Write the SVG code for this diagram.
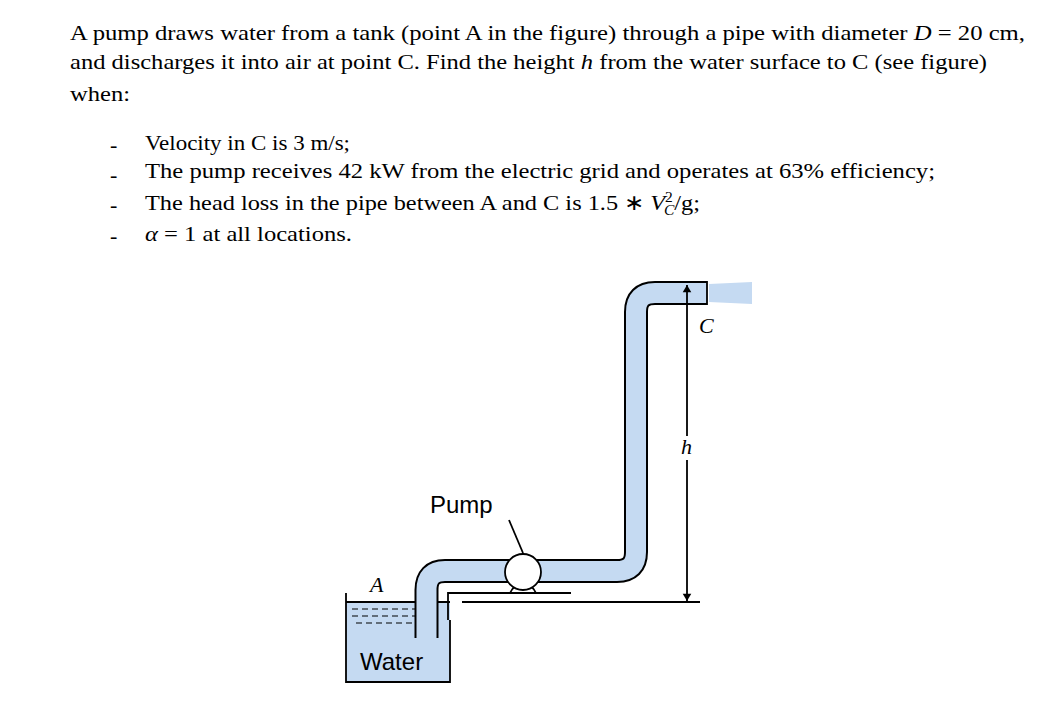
<svg xmlns="http://www.w3.org/2000/svg" width="1059" height="707" viewBox="0 0 1059 707">
<style>
.t{font-family:"Liberation Serif",serif;font-size:22px;fill:#000}
.s{font-family:"Liberation Sans",sans-serif;font-size:24px;fill:#000}
.ln{stroke:#000;stroke-width:1.8;fill:none}
</style>
<defs>
<marker id="ar" viewBox="0 0 10 14" refX="10" refY="7" markerWidth="14" markerHeight="10" orient="auto-start-reverse" markerUnits="userSpaceOnUse"><path d="M0,1 L10,7 L0,13 Z" fill="#000"/></marker>
</defs>
<rect width="1059" height="707" fill="#fff"/>
<g id="text">
<text class="t" x="70" y="40" textLength="955" lengthAdjust="spacingAndGlyphs">A pump draws water from a tank (point A in the figure) through a pipe with diameter <tspan font-style="italic">D</tspan> = 20 cm,</text>
<text class="t" x="70" y="69" textLength="917" lengthAdjust="spacingAndGlyphs">and discharges it into air at point C. Find the height <tspan font-style="italic">h</tspan> from the water surface to C (see figure)</text>
<text class="t" x="70" y="101" textLength="60" lengthAdjust="spacingAndGlyphs">when:</text>
<text class="t" x="110" y="152">-</text><text class="t" x="145" y="150" textLength="205" lengthAdjust="spacingAndGlyphs">Velocity in C is 3 m/s;</text>
<text class="t" x="110" y="182">-</text><text class="t" x="145" y="178" textLength="790" lengthAdjust="spacingAndGlyphs">The pump receives 42 kW from the electric grid and operates at 63% efficiency;</text>
<text class="t" x="110" y="212">-</text><text class="t" x="145" y="210" textLength="555" lengthAdjust="spacingAndGlyphs">The head loss in the pipe between A and C is 1.5 ∗ <tspan font-style="italic">V</tspan><tspan font-size="14" dy="-8">2</tspan><tspan font-size="14" font-style="italic" dx="-8" dy="13">C</tspan><tspan dy="-5">/g;</tspan></text>
<text class="t" x="110" y="243">-</text><text class="t" x="145" y="241" textLength="207" lengthAdjust="spacingAndGlyphs"><tspan font-style="italic">α</tspan> = 1 at all locations.</text>
</g>
<g id="tank">
<rect x="346" y="602" width="104" height="80" fill="#c5daf2"/>
<path class="ln" d="M346,593 V682 H450 V620"/>
<path d="M352,609 h90 M352,616 h90 M356,623 h80" stroke="#000" stroke-width="1.2" stroke-dasharray="6,4"/>
<line class="ln" x1="346" y1="602" x2="450" y2="602" stroke-width="1.2"/>
<text class="s" x="360" y="670">Water</text>
<text class="t" x="370" y="592" font-style="italic">A</text>
</g>
<g id="ground">
<path class="ln" d="M448,620 V593 H571"/>
<line class="ln" x1="462" y1="602" x2="700" y2="602"/>
</g>
<g id="jet"><path d="M709,284 L752,282 L752,304 L709,302 Z" fill="#c5daf2"/></g>
<g id="pipe">
<path d="M426.5,638 V590 Q426.5,571 445,571 H617 Q636,571 636,552 V312 Q636,293 655,293 H707" fill="none" stroke="#000" stroke-width="24"/>
<path d="M426.5,640 V590 Q426.5,571 445,571 H617 Q636,571 636,552 V312 Q636,293 655,293 H707" fill="none" stroke="#c5daf2" stroke-width="20"/>
<line class="ln" x1="707" y1="281" x2="707" y2="305"/>
</g>
<g id="pump">
<path class="ln" d="M510,593 Q514,584 523,584 Q532,584 536,593"/>
<circle cx="523" cy="572" r="18" fill="#fff" stroke="#000" stroke-width="1.8"/>
<line class="ln" x1="509" y1="520" x2="523" y2="553"/>
<text class="s" x="430" y="513">Pump</text>
</g>
<g id="connectors">
<line class="ln" x1="687" y1="285" x2="687" y2="601" marker-start="url(#ar)" marker-end="url(#ar)" stroke-width="1.4"/>
<rect x="680" y="436" width="14" height="24" fill="#fff"/>
<text class="t" x="681" y="454" font-style="italic">h</text>
<text class="t" x="699" y="333" font-style="italic">C</text>
</g>
</svg>
